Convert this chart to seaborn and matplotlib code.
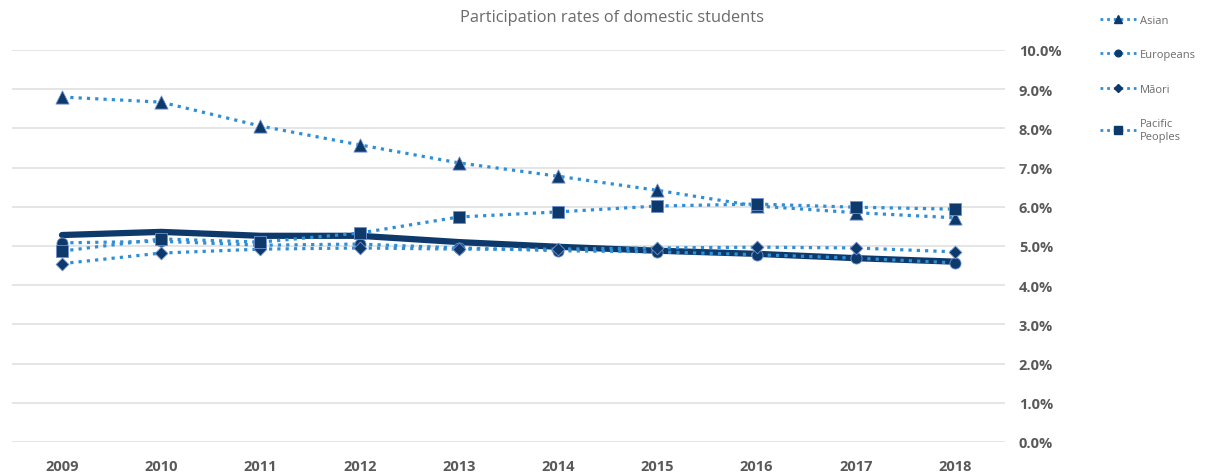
import numpy as np
import pandas as pd
import matplotlib
matplotlib.use("Agg")
import matplotlib.pyplot as plt
from matplotlib.lines import Line2D
from matplotlib.ticker import FuncFormatter
import seaborn as sns

years = [2009, 2010, 2011, 2012, 2013, 2014, 2015, 2016, 2017, 2018]
asian = [8.80, 8.67, 8.06, 7.58, 7.12, 6.78, 6.42, 6.02, 5.85, 5.72]
europeans = [5.08, 5.12, 5.02, 5.05, 4.95, 4.88, 4.85, 4.78, 4.69, 4.57]
maori = [4.55, 4.82, 4.92, 4.95, 4.92, 4.92, 4.95, 4.97, 4.95, 4.85]
pacific = [4.87, 5.18, 5.10, 5.33, 5.74, 5.87, 6.02, 6.07, 5.99, 5.94]
total = [5.28, 5.36, 5.26, 5.26, 5.10, 4.98, 4.88, 4.80, 4.69, 4.60]

series_names = ["Asian", "Europeans", "M\u0101ori", "Pacific\nPeoples"]
series_values = [asian, europeans, maori, pacific]
series_markers = ["^", "o", "D", "s"]
marker_sizes = [9.5, 8, 6.5, 8.5]

sns.set_theme(style="white")
plt.rcParams["font.family"] = ["Open Sans", "DejaVu Sans"]

fig = plt.figure(figsize=(12.23, 4.77), dpi=100)
ax = fig.add_axes([12 / 1223, 1 - 443 / 477, (1005 - 12) / 1223, (443 - 51) / 477])

dot_blue = "#2f8fd6"
navy = "#0d3a6b"

# overall rate: heavy solid line
df = pd.DataFrame({"year": years, "value": total})
sns.lineplot(data=df, x="year", y="value", ax=ax, color=navy, lw=4.5,
             solid_capstyle="round", zorder=3)

# each group: dotted line with its own marker
for name, vals, mk, ms in zip(series_names, series_values, series_markers, marker_sizes):
    d = pd.DataFrame({"year": years, "value": vals})
    sns.lineplot(data=d, x="year", y="value", ax=ax, color=dot_blue, lw=2.3,
                 linestyle=(0, (1, 1.6)), zorder=4)
    sns.scatterplot(data=d, x="year", y="value", ax=ax, marker=mk, s=ms ** 2,
                    color=navy, edgecolor="#6f8fd0", linewidth=0.6, zorder=5)

ax.set_xlim(years[0] - 0.504, years[-1] + 0.504)
ax.set_ylim(0, 10)
ax.set_yticks(np.arange(0, 10.5, 1.0))
ax.set_xticks(years)
ax.yaxis.tick_right()
ax.yaxis.set_major_formatter(FuncFormatter(lambda v, p: f"{v:.1f}%"))
ax.grid(axis="y", color="#e0e0e0", lw=1.2)
ax.grid(axis="x", visible=False)
for s in ax.spines.values():
    s.set_visible(False)
ax.set_xlabel("")
ax.set_ylabel("")
ax.tick_params(axis="y", length=0, pad=10, labelsize=10.5, labelcolor="#595959")
ax.tick_params(axis="x", length=0, pad=12, labelsize=10.5, labelcolor="#595959")
for lab in ax.get_xticklabels() + ax.get_yticklabels():
    lab.set_fontweight("bold")

fig.text(612 / 1223, 1 - 18 / 477, "Participation rates of domestic students",
         ha="center", va="center", fontsize=11.8, color="#6b6b6b")

handles = [Line2D([0], [0], color=dot_blue, lw=2.0, linestyle=(0, (1, 1.4)),
                  marker=mk, markersize=ms * 0.6, markerfacecolor=navy,
                  markeredgecolor=navy)
           for mk, ms in zip(series_markers, marker_sizes)]
fig.legend(handles, series_names, loc="upper left",
           bbox_to_anchor=(1090 / 1223, 1 - 6 / 477), frameon=False,
           fontsize=8, labelcolor="#6b6b6b", handlelength=3.2,
           handletextpad=0.4, labelspacing=2.1)

fig.savefig("out.png", dpi=100)
